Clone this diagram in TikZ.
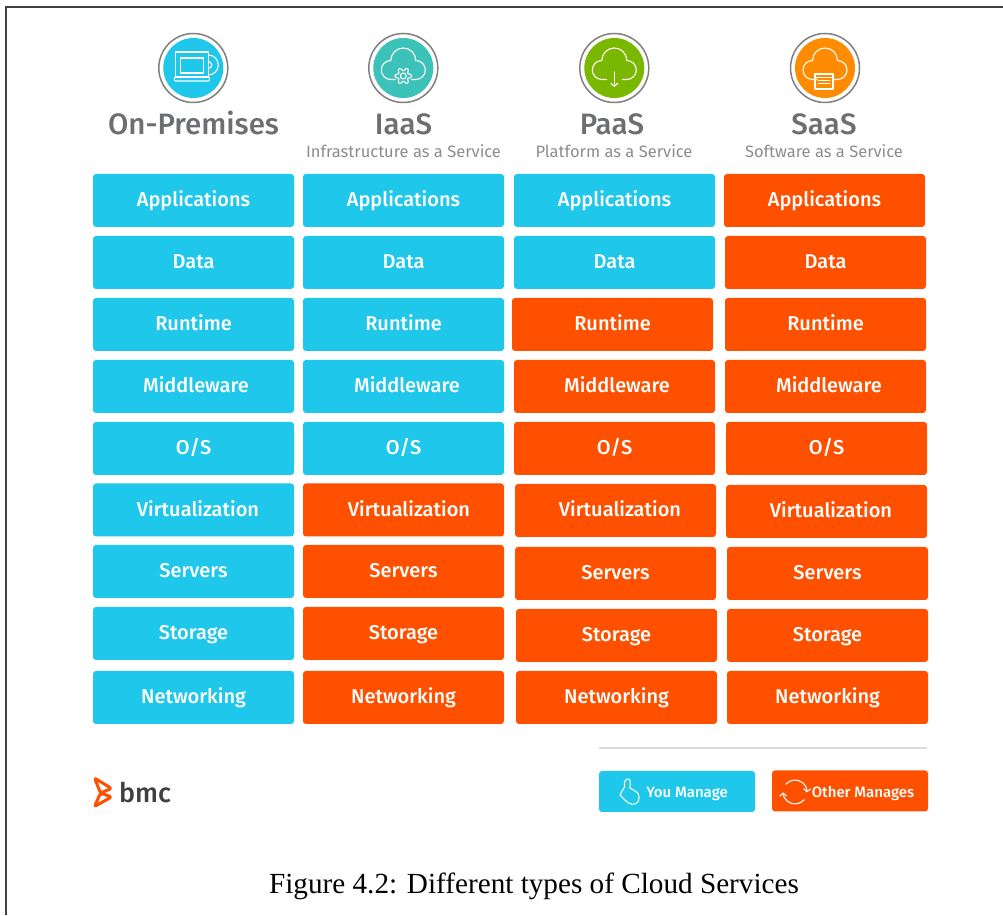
\documentclass[tikz,border=0pt]{standalone}
\usepackage{fontspec}
\setmainfont{Fira Sans}[BoldFont={Fira Sans Medium}]
\newfontfamily\captionfont{Liberation Serif}
\usetikzlibrary{arrows.meta}

\definecolor{youblue}{HTML}{1FC7EA}
\definecolor{otherorange}{HTML}{FF5000}
\definecolor{headgray}{HTML}{6D6E71}
\definecolor{subgray}{HTML}{8A8C8E}
\definecolor{iaasteal}{HTML}{3DC2BA}
\definecolor{paasgreen}{HTML}{7AB800}
\definecolor{saasorange}{HTML}{FF8C00}

\tikzstyle{cell}=[rectangle,
                        rounded corners=3pt,
                        minimum width=201pt,
                        minimum height=53pt,
                        inner sep=0pt,
                        text=white,
                        text height=13pt,
                        text depth=0pt,
                        font=\fontsize{20}{21}\selectfont\bfseries]
\tikzstyle{you}=[cell,fill=youblue]
\tikzstyle{other}=[cell,fill=otherorange]
\tikzstyle{headline}=[text=headgray,inner sep=0pt,text height=20pt,text depth=0pt,
                        font=\fontsize{29.5}{30}\selectfont\bfseries]
\tikzstyle{subline}=[text=subgray,inner sep=0pt,text height=12pt,text depth=0pt,
                        font=\fontsize{16.5}{18}\selectfont]
\tikzstyle{ring}=[circle,draw=gray,fill=white,line width=1.5pt,minimum size=69pt,inner sep=0pt]
\tikzstyle{disc}=[circle,minimum size=60pt,inner sep=0pt]
\tikzstyle{iconline}=[draw=white,line width=1.1pt,line cap=round,line join=round]
\tikzstyle{legend}=[rectangle,rounded corners=3pt,inner sep=0pt,minimum height=41pt,
                        text=white,text height=13pt,text depth=0pt,
                        font=\fontsize{15}{16}\selectfont\bfseries]

\newcommand{\cloudline}{(-8,-11.5) -- (-12.5,-11.5) arc (270:90:9.5) arc (180:0:12.5) arc (90:-90:9.5) -- (8,-11.5)}

\begin{document}
\begin{tikzpicture}[x=1pt,y=1pt,>={Straight Barb[length=3pt,width=7pt]}]
  \useasboundingbox (0,0) rectangle (1003,915);
  \draw[line width=2pt,draw=black!75] (6,0) -- (6,908) -- (1003,908);

  % icons on top
  \node (ringa) [ring] at (193.3,847) {};
  \node (ringb) [ring] at (403.3,847) {};
  \node (ringc) [ring] at (614.3,847) {};
  \node (ringd) [ring] at (825,847) {};
  \node (disca) [disc,fill=youblue] at (ringa) {};
  \node (discb) [disc,fill=iaasteal] at (ringb) {};
  \node (discc) [disc,fill=paasgreen] at (ringc) {};
  \node (discd) [disc,fill=saasorange] at (ringd) {};

  \begin{scope}[shift={(193.3,847)}]
    \draw[iconline] (-18,-9) rectangle (15,16);
    \draw[iconline] (-13,-5) rectangle (10,10);
    \draw[iconline,rounded corners=1pt] (-19,-13) rectangle (16,-9);
    \draw[iconline] (15,13) arc (90:-90:10);
    \draw[iconline] (15,6.5) arc (90:-90:3.5);
  \end{scope}
  \begin{scope}[shift={(403.3,847)}]
    \draw[iconline] \cloudline;
    \draw[iconline] plot[domain=0:360,samples=73,shift={(0,-8)}] (\x:{6.8+1.6*cos(6*\x)}) -- cycle;
    \draw[iconline] (0,-8) circle (3);
  \end{scope}
  \begin{scope}[shift={(614.3,847)}]
    \draw[iconline] \cloudline;
    \draw[iconline,->] (0,-4) -- (0,-19);
  \end{scope}
  \begin{scope}[shift={(825,847)}]
    \draw[iconline] \cloudline;
    \draw[iconline] (-10,-21) rectangle (8,-6);
    \draw[iconline,line width=.8pt] (-10,-9.5) -- (8,-9.5);
    \draw[iconline,line width=.8pt] (-7,-12.5) -- (5,-12.5);
    \draw[iconline,line width=.8pt] (-7,-15) -- (5,-15);
  \end{scope}

  % headings
  \node (heada) [headline] at (193.5,790) {On-Premises};
  \node (headb) [headline] at (403.5,790) {IaaS};
  \node (headc) [headline] at (612,790) {PaaS};
  \node (headd) [headline] at (824,790) {SaaS};
  \node (subb) [subline] at (403.5,763) {Infrastructure as a Service};
  \node (subc) [subline] at (614,763) {Platform as a Service};
  \node (subd) [subline] at (824,763) {Software as a Service};

  % first column
  \node (app1) [you] at (193.5,714.5) {Applications};
  \node (dat1) [you] at (193.5,652.5) {Data};
  \node (run1) [you] at (193.5,590.5) {Runtime};
  \node (mid1) [you] at (193.5,528.5) {\hspace{5pt}Middleware};
  \node (os1) [you] at (193.5,466.5) {O/S};
  \node (vir1) [you] at (193.5,405) {\hspace{9pt}Virtualization};
  \node (ser1) [you] at (193.5,343.5) {Servers};
  \node (sto1) [you] at (193.5,281.5) {Storage};
  \node (net1) [you] at (193.5,217.5) {Networking};

  % second column
  \node (app2) [you] at (403.5,714.5) {Applications};
  \node (dat2) [you] at (403.5,652.5) {Data};
  \node (run2) [you] at (403.5,590.5) {Runtime};
  \node (mid2) [you] at (403.5,528.5) {\hspace{7pt}Middleware};
  \node (os2) [you] at (403.5,466.5) {O/S};
  \node (vir2) [other] at (403.5,405) {\hspace{11pt}Virtualization};
  \node (ser2) [other] at (403.5,343.5) {Servers};
  \node (sto2) [other] at (403.5,281.5) {Storage};
  \node (net2) [other] at (403.5,217.5) {Networking};

  % third column
  \node (app3) [you] at (614.5,714.5) {Applications};
  \node (dat3) [you] at (614.5,652.5) {Data};
  \node (run3) [other] at (612.5,590.5) {Runtime};
  \node (mid3) [other] at (614.5,528.5) {\hspace{5pt}Middleware};
  \node (os3) [other] at (614.5,466.5) {O/S};
  \node (vir3) [other] at (615.5,404.5) {\hspace{9pt}Virtualization};
  \node (ser3) [other] at (615.5,341.5) {Servers};
  \node (sto3) [other] at (616.5,279.5) {Storage};
  \node (net3) [other] at (616.5,217.5) {Networking};

  % fourth column
  \node (app4) [other] at (824.5,714.5) {Applications};
  \node (dat4) [other] at (825.5,652.5) {Data};
  \node (run4) [other] at (825.5,590.5) {Runtime};
  \node (mid4) [other] at (825.5,528.5) {\hspace{7pt}Middleware};
  \node (os4) [other] at (826.5,466.5) {O/S};
  \node (vir4) [other] at (826.5,403.5) {\hspace{9pt}Virtualization};
  \node (ser4) [other] at (827.5,341.5) {Servers};
  \node (sto4) [other] at (827.5,279.5) {Storage};
  \node (net4) [other] at (827.5,217.5) {Networking};

  % legend and logo
  \draw[line width=2pt,draw=black!14] (599,167) -- (927,167);
  \node (youbox) [legend,fill=youblue,minimum width=156pt] at (677,123.5) {\hspace{20pt}You Manage};
  \node (otherbox) [legend,fill=otherorange,minimum width=156pt] at (850,124) {\hspace{26pt}Other Manages};
  \draw[iconline] (624.5,128) .. controls (624,133) and (625,136) .. (628,136)
     .. controls (631,136) and (630,133) .. (630,127) .. controls (634,124) and (639,124) .. (639,117)
     .. controls (639,112) and (635,110) .. (631,111) .. controls (627,112) and (623,117) .. (620,120)
     .. controls (621,123) and (623,125) .. (624.5,128);
  \draw[iconline,->] (785.8,130.7) arc (140:-2:12);
  \draw[iconline,->] (804.2,115.3) arc (-40:-178:12);
  \draw[line width=3pt,draw=otherorange,line join=round,rounded corners=2pt]
     (94.5,137) -- (111.5,126.5) -- (100.5,122) -- cycle
     (100.5,122) -- (111.5,118) -- (94.5,108.5) -- cycle;
  \node (bmc) [inner sep=0pt,text=black!75,text height=15pt,text depth=0pt,
     font=\fontsize{27}{28}\selectfont\bfseries] at (145,120) {bmc};

  \node (caption) [inner sep=0pt,text height=18pt,text depth=0pt,
     font=\captionfont\fontsize{29.2}{30}\selectfont] at (534,31) {Figure 4.2: Different types of Cloud Services};
\end{tikzpicture}
\end{document}
